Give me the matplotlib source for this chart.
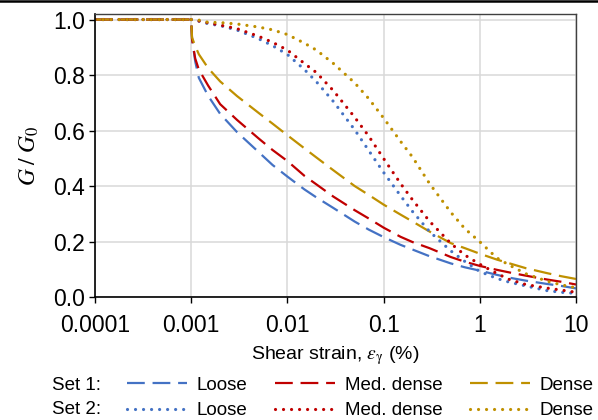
import matplotlib
matplotlib.use('Agg')
import matplotlib.pyplot as plt
from matplotlib.lines import Line2D
from matplotlib.ticker import FixedLocator, FixedFormatter

plt.rcParams['font.family'] = ['Liberation Sans', 'DejaVu Sans']
plt.rcParams['mathtext.fontset'] = 'stix'

# shear strain (%) shared by all curves
strain = [0.0001, 0.001, 0.00102, 0.0011, 0.0012, 0.0015, 0.002, 0.003, 0.005, 0.007,
          0.01, 0.015, 0.02, 0.03, 0.05, 0.07, 0.1, 0.15, 0.2, 0.3, 0.5, 0.7,
          1, 1.5, 2, 3, 5, 7, 10]

# Set 1 (dashed)
set1_loose = [1.0, 1.0, 0.93, 0.85, 0.79, 0.725, 0.66, 0.594, 0.523, 0.476,
              0.434, 0.388, 0.359, 0.321, 0.272, 0.243, 0.216, 0.188, 0.171, 0.147, 0.121, 0.107,
              0.095, 0.08, 0.07, 0.059, 0.047, 0.04, 0.031]
set1_med = [1.0, 1.0, 0.93, 0.86, 0.82, 0.762, 0.695, 0.638, 0.572, 0.53,
            0.49, 0.437, 0.406, 0.362, 0.313, 0.283, 0.25, 0.217, 0.198, 0.176, 0.144, 0.127,
            0.112, 0.098, 0.089, 0.077, 0.063, 0.055, 0.045]
set1_dense = [1.0, 1.0, 0.935, 0.905, 0.875, 0.825, 0.777, 0.724, 0.664, 0.625,
              0.583, 0.536, 0.503, 0.457, 0.400, 0.368, 0.333, 0.297, 0.272, 0.236, 0.194, 0.176,
              0.156, 0.135, 0.122, 0.104, 0.086, 0.075, 0.065]

# Set 2 (dotted)
set2_loose = [1.0, 1.0, 1.0, 0.997, 0.994, 0.985, 0.978, 0.962, 0.931, 0.906,
              0.874, 0.82, 0.776, 0.705, 0.603, 0.528, 0.449, 0.365, 0.308, 0.236, 0.166, 0.128,
              0.092, 0.067, 0.054, 0.04, 0.023, 0.017, 0.013]
set2_med = [1.0, 1.0, 1.0, 0.998, 0.995, 0.988, 0.98, 0.967, 0.94, 0.918,
            0.89, 0.842, 0.809, 0.744, 0.648, 0.58, 0.499, 0.409, 0.35, 0.273, 0.193, 0.151,
            0.118, 0.085, 0.064, 0.045, 0.032, 0.025, 0.017]
set2_dense = [1.0, 1.0, 1.0, 0.999, 0.998, 0.99, 0.989, 0.984, 0.973, 0.963,
              0.946, 0.915, 0.89, 0.842, 0.772, 0.715, 0.645, 0.561, 0.504, 0.409, 0.305, 0.246,
              0.199, 0.141, 0.116, 0.084, 0.057, 0.044, 0.033]

xticks = [0.0001, 0.001, 0.01, 0.1, 1, 10]
xticklabels = ['0.0001', '0.001', '0.01', '0.1', '1', '10']
yticks = [0.0, 0.2, 0.4, 0.6, 0.8, 1.0]

c_loose = '#4472C4'
c_med = '#C00000'
c_dense = '#BF9000'

fig = plt.figure(figsize=(5.98, 4.2), dpi=100)
ax = fig.add_axes([95 / 598, 1 - 297 / 420, (576 - 95) / 598, (297 - 14) / 420])

dash = (0, (8, 3.5))
dot = (0, (0.01, 2.5))
kw1 = dict(lw=1.6, linestyle=dash, dash_capstyle='butt')
kw2 = dict(lw=2.3, linestyle=dot, dash_capstyle='round')

h1, = ax.plot(strain, set1_loose, color=c_loose, **kw1)
h2, = ax.plot(strain, set1_med, color=c_med, **kw1)
h3, = ax.plot(strain, set1_dense, color=c_dense, **kw1)
h4, = ax.plot(strain, set2_loose, color=c_loose, **kw2)
h5, = ax.plot(strain, set2_med, color=c_med, **kw2)
h6, = ax.plot(strain, set2_dense, color=c_dense, **kw2)

ax.set_xscale('log')
ax.set_xlim(0.0001, 10)
ax.set_ylim(0, 1.02)
ax.xaxis.set_major_locator(FixedLocator(xticks))
ax.xaxis.set_major_formatter(FixedFormatter(xticklabels))
ax.xaxis.set_minor_locator(FixedLocator([]))
ax.set_yticks(yticks)
ax.set_yticklabels(['%.1f' % v for v in yticks])
ax.grid(True, color='#D9D9D9', lw=1.1)
ax.set_axisbelow(True)
ax.tick_params(direction='out', length=4, width=1, labelsize=16.5, colors='black')
ax.tick_params(axis='x', pad=8)
ax.tick_params(axis='y', pad=3)

for s in ['left', 'bottom']:
    ax.spines[s].set_color('black')
    ax.spines[s].set_linewidth(1.2)
for s in ['top', 'right']:
    ax.spines[s].set_color('#404040')
    ax.spines[s].set_linewidth(1.0)

ax.set_ylabel(r'$G\;/\;G_0$', fontsize=17, labelpad=9)
ax.set_xlabel(r'Shear strain, $\varepsilon_{\mathrm{\gamma}}$ (%)', fontsize=14, labelpad=5)

# thick rule at the very top of the figure
fig.add_artist(Line2D([0, 1], [1 - 1.2 / 420, 1 - 1.2 / 420], color='black', lw=1.8))

handles = [h1, h4, h2, h5, h3, h6]
labels = ['Loose', 'Loose', 'Med. dense', 'Med. dense', 'Dense', 'Dense']
fig.legend(handles, labels, ncol=3, frameon=False, fontsize=13.5,
           loc='center left', bbox_to_anchor=(127 / 598, 1 - 398 / 420),
           borderpad=0, borderaxespad=0, handlelength=3.2, handletextpad=0.5,
           columnspacing=1.5, labelspacing=0.45)
fig.text(52 / 598, 1 - 386 / 420, 'Set 1:', fontsize=13.5, va='center', ha='left')
fig.text(52 / 598, 1 - 410 / 420, 'Set 2:', fontsize=13.5, va='center', ha='left')

fig.savefig('out.png', dpi=100)
